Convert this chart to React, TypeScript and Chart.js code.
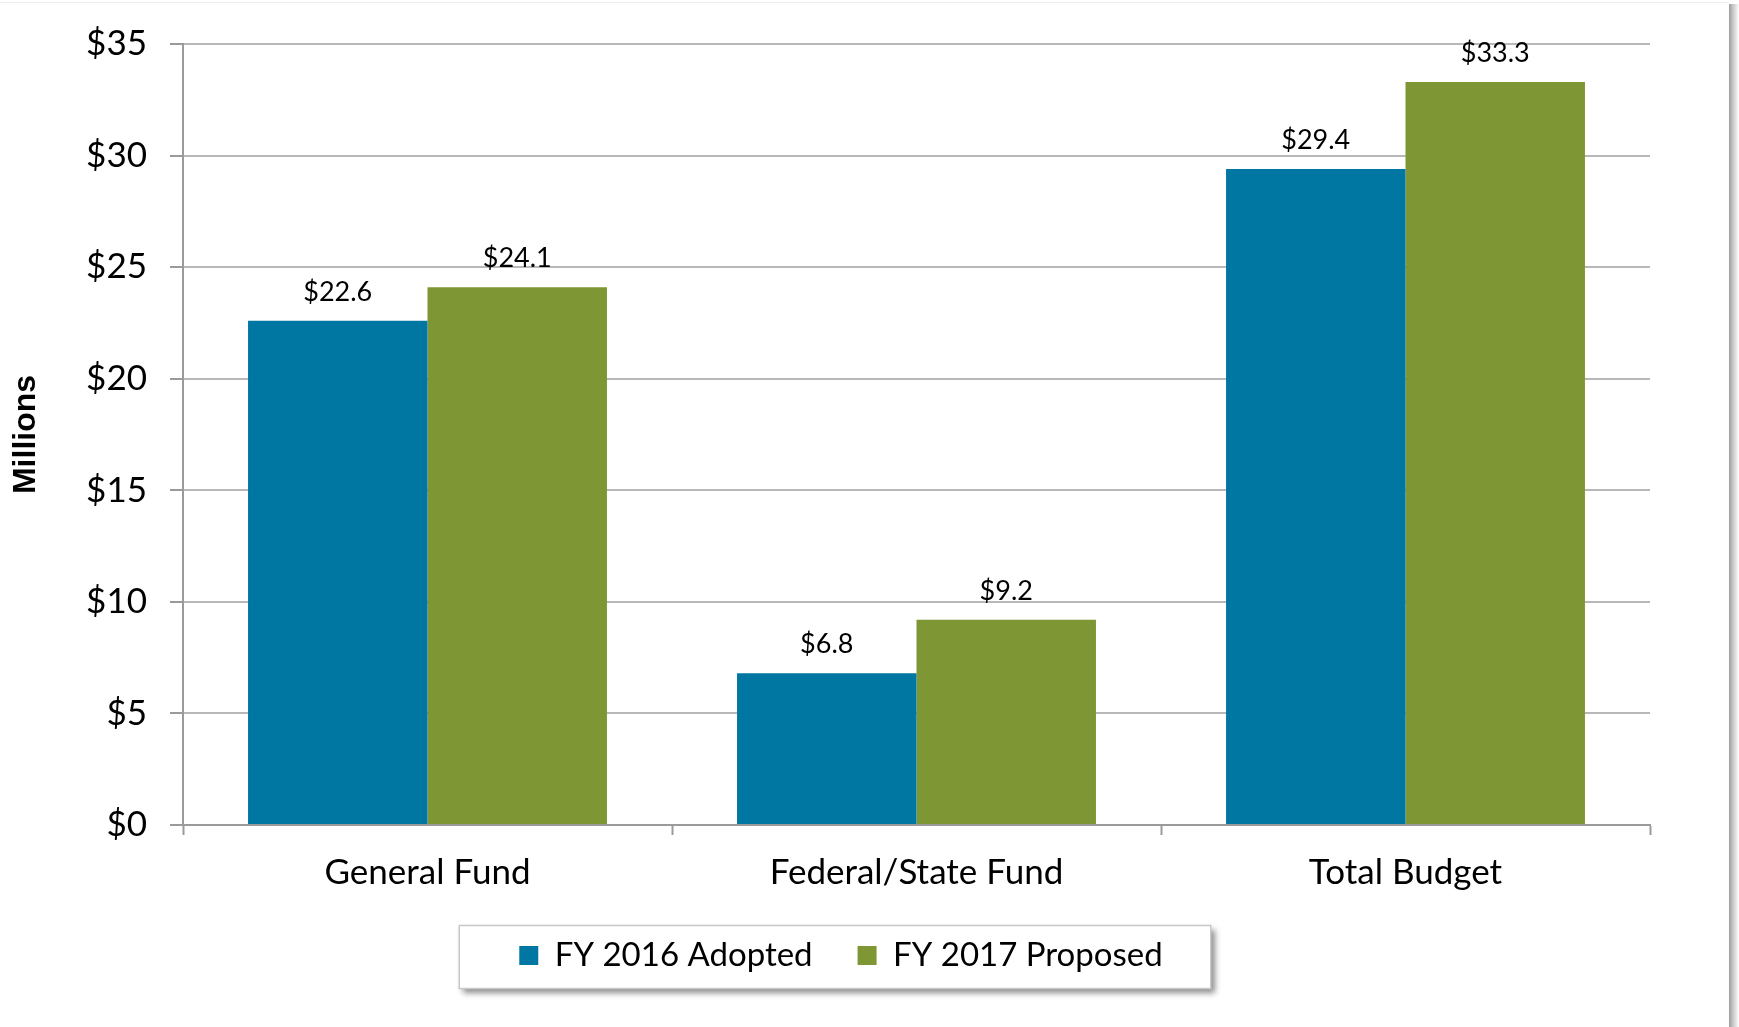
import React, { useEffect, useRef } from "react";
import { Chart, registerables } from "chart.js";

Chart.register(...registerables);

// ---- data ----
const categories = ["General Fund", "Federal/State Fund", "Total Budget"];
const fy2016Adopted = [22.6, 6.8, 29.4];
const fy2017Proposed = [24.1, 9.2, 33.3];
const seriesLabels = ["FY 2016 Adopted", "FY 2017 Proposed"];
const yMin = 0;
const yMax = 35;
const yStep = 5;
const yAxisTitle = "Millions";

// ---- style ----
const BLUE = "#0077A2";
const GREEN = "#7E9734";
const FONT = "Lato, 'Noto Sans', sans-serif";
const GRID = "#B8B8B8";
const AXIS = "#9A9A9A";
const LEGEND_SHIFT = 16;

const valueLabelPlugin = {
  id: "barValueLabels",
  afterDatasetsDraw(chart: any) {
    const ctx = chart.ctx;
    ctx.save();
    ctx.font = `27px ${FONT}`;
    ctx.fillStyle = "#000";
    ctx.textAlign = "center";
    ctx.textBaseline = "alphabetic";
    chart.data.datasets.forEach((ds: any, di: number) => {
      const meta = chart.getDatasetMeta(di);
      meta.data.forEach((bar: any, i: number) => {
        const v = ds.data[i] as number;
        ctx.fillText("$" + v.toFixed(1), bar.x, bar.y - 20);
      });
    });
    ctx.restore();
  },
};

const legendShiftPlugin = {
  id: "legendShift",
  afterLayout(chart: any) {
    const lg = chart.legend;
    if (!lg) return;
    lg.left += LEGEND_SHIFT;
    lg.right += LEGEND_SHIFT;
  },
};

const legendFramePlugin = {
  id: "legendFrame",
  beforeDraw(chart: any) {
    const lg = chart.legend;
    const hb = lg && lg.legendHitBoxes;
    if (!hb || !hb.length) return;
    const ctx = chart.ctx;
    const first = hb[0];
    const last = hb[hb.length - 1];
    const cy = first.top + first.height / 2;
    const x0 = first.left - 60;
    const x1 = last.left + last.width + 48;
    const y0 = cy - 30;
    const y1 = cy + 33;
    ctx.save();
    ctx.shadowColor = "rgba(0,0,0,0.45)";
    ctx.shadowBlur = 6;
    ctx.shadowOffsetX = 4;
    ctx.shadowOffsetY = 4;
    ctx.fillStyle = "#fff";
    ctx.fillRect(x0, y0, x1 - x0, y1 - y0);
    ctx.restore();
    ctx.save();
    ctx.strokeStyle = "#C8C8C8";
    ctx.lineWidth = 1.5;
    ctx.strokeRect(x0, y0, x1 - x0, y1 - y0);
    ctx.restore();
  },
};

export default function App() {
  const canvasRef = useRef<HTMLCanvasElement | null>(null);

  useEffect(() => {
    if (!canvasRef.current) return;
    const chart = new Chart(canvasRef.current, {
      type: "bar",
      data: {
        labels: categories,
        datasets: [
          {
            label: seriesLabels[0],
            data: fy2016Adopted,
            backgroundColor: BLUE,
            borderWidth: 0,
            barPercentage: 1,
            categoryPercentage: 0.734,
          },
          {
            label: seriesLabels[1],
            data: fy2017Proposed,
            backgroundColor: GREEN,
            borderWidth: 0,
            barPercentage: 1,
            categoryPercentage: 0.734,
          },
        ],
      },
      options: {
        animation: false,
        responsive: true,
        maintainAspectRatio: false,
        events: [],
        layout: { padding: { left: 0, right: 79, top: 42, bottom: 45 } },
        plugins: {
          tooltip: { enabled: false },
          title: { display: false },
          legend: {
            display: true,
            position: "bottom",
            labels: {
              font: { family: FONT, size: 33 },
              color: "#000",
              boxWidth: 19,
              boxHeight: 19,
              padding: 45,
            },
          },
        },
        scales: {
          x: {
            afterFit: (scale: any) => {
              scale.height = 69;
            },
            grid: {
              display: true,
              drawOnChartArea: false,
              drawTicks: true,
              tickLength: 10,
              tickColor: AXIS,
              tickWidth: 2,
            },
            border: { display: true, color: AXIS, width: 2 },
            ticks: {
              font: { family: FONT, size: 35 },
              color: "#000",
              padding: 17,
              maxRotation: 0,
            },
          },
          y: {
            min: yMin,
            max: yMax,
            afterFit: (scale: any) => {
              scale.width = 183;
            },
            ticks: {
              stepSize: yStep,
              font: { family: FONT, size: 35 },
              color: "#000",
              padding: 23,
              callback: (v: any) => "$" + v,
            },
            grid: {
              color: GRID,
              lineWidth: 2,
              tickLength: 13,
              tickColor: AXIS,
              tickWidth: 2,
            },
            border: { display: true, color: AXIS, width: 2 },
            title: {
              display: true,
              text: yAxisTitle,
              color: "#000",
              font: { family: "'Liberation Sans', Arial, sans-serif", size: 32, weight: "bold" },
              padding: { top: 7, bottom: 0 },
            },
          },
        },
      },
      plugins: [legendShiftPlugin, legendFramePlugin, valueLabelPlugin],
    } as any);
    return () => chart.destroy();
  }, []);

  return (
    <div
      style={{
        position: "absolute",
        left: 0,
        top: 0,
        width: 1739,
        height: 1027,
        background: "#fff",
        overflow: "hidden",
      }}
    >
      <div
        style={{
          position: "absolute",
          left: 0,
          top: 2,
          width: 1729,
          height: 1,
          background: "#EEEEEE",
        }}
      />
      <div
        style={{
          position: "absolute",
          left: 1729,
          top: 4,
          width: 10,
          height: 1023,
          background: "linear-gradient(to right, #9c9c9c, #c8c8c8 40%, #ececec 80%, #fff)",
        }}
      />
      <div style={{ position: "absolute", left: 0, top: 0, width: 1729, height: 1027 }}>
        <canvas ref={canvasRef} />
      </div>
    </div>
  );
}
